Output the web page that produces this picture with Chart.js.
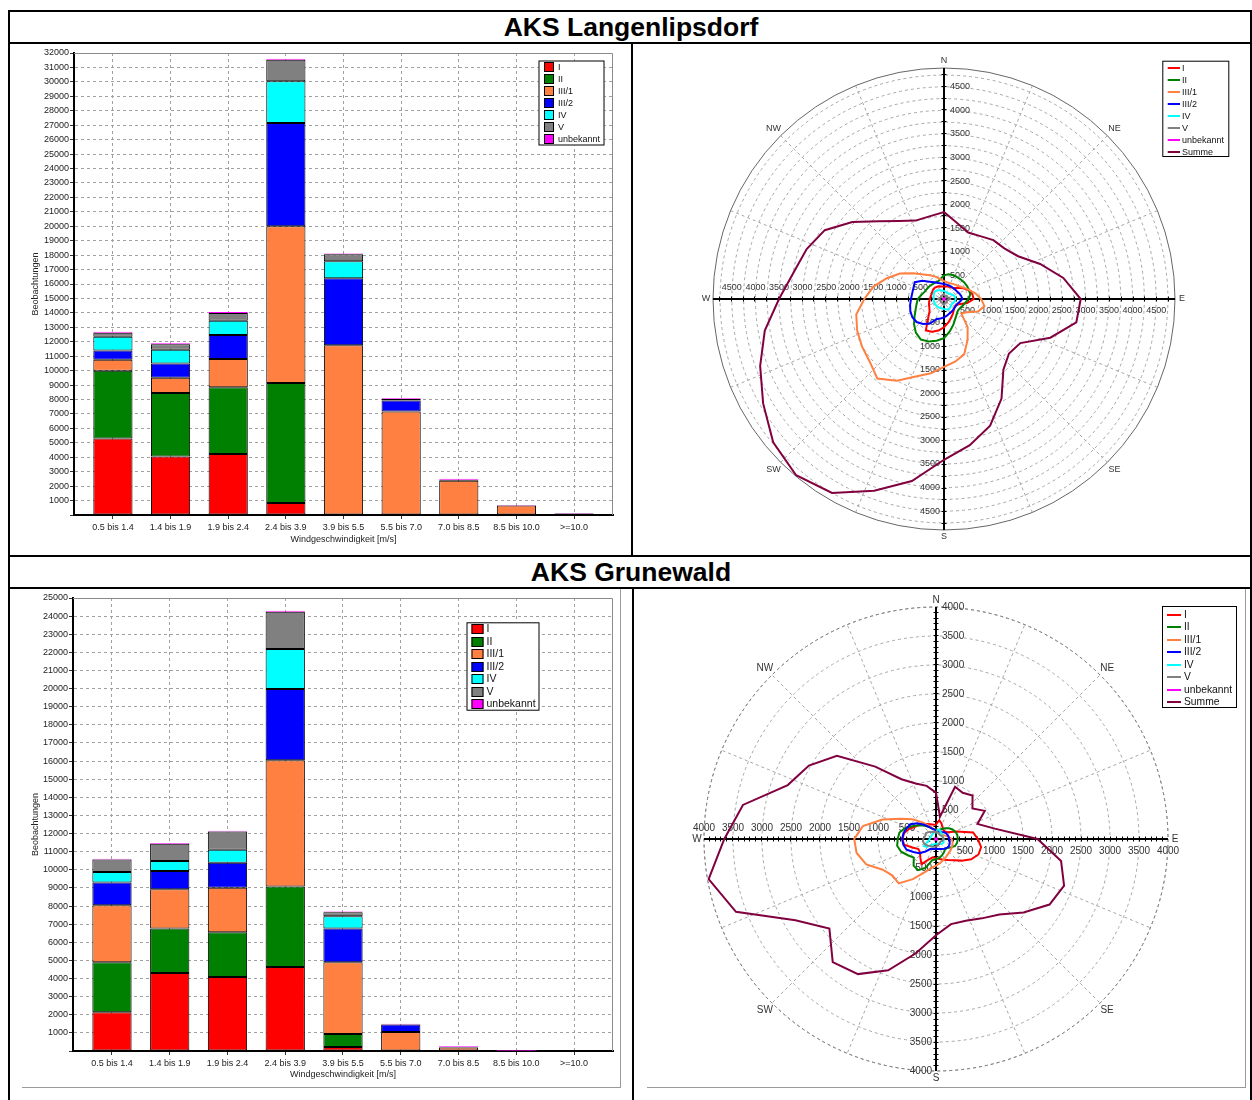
<!DOCTYPE html>
<html>
<head>
<meta charset="utf-8">
<script src="https://cdn.jsdelivr.net/npm/chart.js@4.4.1/dist/chart.umd.min.js"></script>
<style>
  html, body { margin: 0; padding: 0; background: #fff; }
  #page { position: relative; width: 1252px; height: 1100px; overflow: hidden;
          font-family: Arial, "Liberation Sans", sans-serif; }
  canvas { position: absolute; }
  .hl { position: absolute; height: 2px; background: #000; }
  .vl { position: absolute; width: 2px; background: #000; }
  .gl { position: absolute; background: #9a9a9a; }
  .title { position: absolute; left: 10px; width: 1242px; text-align: center;
           font-weight: bold; font-size: 26.5px; line-height: 30px; color: #000; }
</style>
</head>
<body>
<div id="page">
  <canvas id="barLang" width="622" height="511" style="left:10px;top:44px;width:622px;height:511px"></canvas>
  <canvas id="roseLang" width="617" height="511" style="left:634px;top:44px;width:617px;height:511px"></canvas>
  <canvas id="barGrun" width="622" height="497" style="left:10px;top:590px;width:622px;height:497px"></canvas>
  <canvas id="roseGrun" width="617" height="497" style="left:634px;top:590px;width:617px;height:497px"></canvas>

  <div class="title" style="top:12px">AKS Langenlipsdorf</div>
  <div class="title" style="top:557px">AKS Grunewald</div>

  <div class="hl" style="left:8px;top:10px;width:1244px"></div>
  <div class="hl" style="left:8px;top:42px;width:1244px"></div>
  <div class="hl" style="left:8px;top:555px;width:1244px"></div>
  <div class="hl" style="left:8px;top:587px;width:1244px"></div>
  <div class="vl" style="left:8px;top:10px;height:1090px"></div>
  <div class="vl" style="left:631px;top:42px;height:514px"></div>
  <div class="vl" style="left:632px;top:587px;height:513px"></div>
  <div class="vl" style="left:1250px;top:10px;height:1090px"></div>

  <div class="gl" style="left:22px;top:1087px;width:599px;height:1px"></div>
  <div class="gl" style="left:620px;top:589px;width:1px;height:499px"></div>
  <div class="gl" style="left:647px;top:1087px;width:599px;height:1px"></div>
  <div class="gl" style="left:1245px;top:589px;width:1px;height:499px"></div>
</div>

<script>
// ---- categories and labels ----
const speedClasses = ['0.5 bis 1.4', '1.4 bis 1.9', '1.9 bis 2.4', '2.4 bis 3.9', '3.9 bis 5.5',
                      '5.5 bis 7.0', '7.0 bis 8.5', '8.5 bis 10.0', '>=10.0'];
const stabilityClasses = ['I', 'II', 'III/1', 'III/2', 'IV', 'V', 'unbekannt'];
const roseSeriesNames = ['I', 'II', 'III/1', 'III/2', 'IV', 'V', 'unbekannt', 'Summe'];
const sectorDegrees = [0, 10, 20, 30, 40, 50, 60, 70, 80, 90, 100, 110, 120, 130, 140, 150, 160, 170,
                       180, 190, 200, 210, 220, 230, 240, 250, 260, 270, 280, 290, 300, 310, 320, 330, 340, 350];
const compassPoints = ['N', 'NE', 'E', 'SE', 'S', 'SW', 'W', 'NW'];
const langRoseTicks = [500, 1000, 1500, 2000, 2500, 3000, 3500, 4000, 4500];
const grunRoseTicks = [500, 1000, 1500, 2000, 2500, 3000, 3500, 4000];

// ---- AKS Langenlipsdorf: observations per wind speed class ----
const langBarI     = [5300, 4050, 4220,   830,     0,    0,    0,   0,   0];
const langBarII    = [4700, 4400, 4630,  8320,     0,    0,    0,   0,   0];
const langBarIII1  = [ 750, 1050, 1950, 10850, 11750, 7170, 2370, 650, 100];
const langBarIII2  = [ 650, 1000, 1670,  7150,  4650,  760,   80,   0,   0];
const langBarIV    = [ 950,  950,  990,  2900,  1180,    0,    0,   0,   0];
const langBarV     = [ 280,  370,  540,  1490,   480,  100,    0,   0,   0];
const langBarUnb   = [  70,   70,   60,    60,    50,   50,   60,  40,  40];

// ---- AKS Grunewald: observations per wind speed class ----
const grunBarI     = [2140, 4310, 4090, 4640,  220,    0,   0,  0, 0];
const grunBarII    = [2760, 2450, 2470, 4440,  720,    0,   0,  0, 0];
const grunBarIII1  = [3150, 2160, 2450, 6970, 3960, 1050, 190, 20, 0];
const grunBarIII2  = [1250, 1010, 1380, 3930, 1860,  410,  30,  0, 0];
const grunBarIV    = [ 580,  550,  720, 2210,  670,    0,   0,  0, 0];
const grunBarV     = [ 690,  960, 1010, 2050,  230,    0,   0,  0, 0];
const grunBarUnb   = [  40,   40,   40,   50,   40,   50,  40, 30, 0];

// ---- AKS Langenlipsdorf: observations per 10° direction sector ----
const langRoseI    = [265,270,280,290,300,370,460,550,610,630,500,330,280,290,320,370,430,510,600,680,740,770,520,400,360,340,320,300,290,285,290,305,310,300,285,270];
const langRoseII   = [500,535,540,540,545,555,560,565,565,520,460,420,390,385,420,480,580,700,830,900,960,990,930,830,720,640,590,555,490,440,420,410,400,395,390,430];
const langRoseIII1 = [380,360,355,370,390,420,480,570,680,790,870,770,560,480,780,1000,1250,1350,1440,1600,1750,2000,2200,2060,2010,1960,1890,1690,1520,1290,1080,850,680,580,500,430];
const langRoseIII2 = [320,310,305,305,305,310,320,345,370,390,340,300,290,290,300,315,330,360,390,420,450,600,690,760,775,760,730,700,685,690,715,600,480,410,360,335];
const langRoseIV   = [170,160,150,150,155,165,190,220,240,250,235,215,200,200,215,235,235,220,210,205,205,210,215,218,220,220,220,220,225,235,245,250,235,215,195,180];
const langRoseV    = [110,80,70,75,90,80,70,90,120,130,100,75,70,80,95,90,80,100,130,110,90,85,95,90,80,85,100,125,100,80,75,85,90,80,85,100];
const langRoseUnb  = [15,12,10,10,12,14,16,18,16,14,12,10,10,12,14,16,18,20,18,16,14,14,16,18,16,14,12,12,14,16,14,12,12,14,16,15];
const langRoseSum  = [1845,1630,1500,1540,1630,1670,1815,2170,2570,2900,2850,2400,1870,1800,1960,2440,2860,3150,3410,3920,4330,4750,4880,4730,4430,4150,3860,3500,3240,3100,2920,2540,2150,1910,1770,1780];

// ---- AKS Grunewald: observations per 10° direction sector ----
const grunRoseI    = [250,330,280,230,200,200,230,380,650,720,790,780,700,580,480,420,380,350,330,320,380,500,420,360,350,430,560,580,560,500,420,380,330,300,270,250];
const grunRoseII   = [170,160,170,200,240,290,330,360,375,375,370,350,290,240,240,270,300,330,350,370,530,620,600,500,560,640,680,660,640,560,450,370,300,240,190,175];
const grunRoseIII1 = [150,130,120,120,125,130,140,170,220,270,290,300,310,320,330,350,380,420,460,510,620,800,1000,980,1060,1280,1390,1410,1280,980,700,530,380,270,210,170];
const grunRoseIII2 = [150,140,140,150,160,180,200,210,220,230,240,250,255,240,220,200,185,175,170,175,180,200,280,380,450,540,570,585,570,540,510,420,320,240,190,165];
const grunRoseIV   = [110,160,170,150,140,130,120,120,125,130,135,140,140,130,110,95,85,80,80,85,95,110,140,210,240,160,120,110,105,100,95,95,100,110,120,120];
const grunRoseV    = [120,130,110,100,95,100,110,120,125,130,120,100,90,90,95,100,110,120,130,135,140,150,160,180,200,220,230,220,200,190,200,180,160,140,130,125];
const grunRoseUnb  = [10,8,8,10,12,12,10,8,8,10,12,14,12,10,10,12,14,12,10,10,12,14,14,12,10,10,12,14,12,10,8,8,10,12,12,10];
const grunRoseSum  = [800,390,960,920,980,820,970,760,1030,1750,2190,2350,2260,1970,1700,1580,1500,1490,1660,2000,2410,2690,2770,2400,2800,3670,3980,3650,3380,2720,2530,2230,1630,1190,1020,930];

// ---- styling ----
const FONT = 'Arial, "Liberation Sans", sans-serif';
const classColors = ['#ff0000', '#008000', '#ff8040', '#0000ff', '#00ffff', '#808080', '#ff00ff'];
const roseColors = ['#ff0000', '#008000', '#ff8040', '#0000ff', '#00ffff', '#808080', '#ff00ff', '#800040'];

Chart.defaults.font.family = FONT;
Chart.defaults.color = '#222';

// Frame around the plot area and the boxed class legend of the bar charts
const barDecor = {
  id: 'barDecor',
  afterDraw(chart, args, o) {
    const ctx = chart.ctx;
    const a = chart.chartArea;
    ctx.save();
    ctx.strokeStyle = '#8a8a8a';
    ctx.lineWidth = 1;
    ctx.beginPath();
    ctx.moveTo(a.left, a.top + 0.5);
    ctx.lineTo(a.right - 0.5, a.top + 0.5);
    ctx.lineTo(a.right - 0.5, a.bottom);
    ctx.stroke();

    const L = o.legend;
    ctx.fillStyle = '#fff';
    ctx.fillRect(L.x, L.y, L.w, L.h);
    ctx.strokeStyle = '#000';
    ctx.strokeRect(L.x + 0.5, L.y + 0.5, L.w - 1, L.h - 1);
    ctx.font = L.font + 'px ' + FONT;
    ctx.textBaseline = 'middle';
    ctx.textAlign = 'left';
    chart.data.datasets.forEach((ds, i) => {
      const cy = Math.round(L.y + L.row0 + i * L.gap);
      ctx.fillStyle = ds.backgroundColor;
      ctx.fillRect(L.x + L.sqX, cy - L.sq / 2, L.sqW, L.sq);
      ctx.strokeStyle = '#000';
      ctx.strokeRect(L.x + L.sqX + 0.5, cy - L.sq / 2 + 0.5, L.sqW - 1, L.sq - 1);
      ctx.fillStyle = '#111';
      ctx.fillText(ds.label, L.x + L.textX, cy + 0.5);
    });
    ctx.restore();
  }
};

function makeBarChart(id, series, yMax, g) {
  const datasets = series.map((vals, i) => ({
    label: stabilityClasses[i],
    data: vals.map((v, k) => ({ x: k, y: v })),
    backgroundColor: classColors[i],
    borderColor: i === series.length - 1 ? classColors[i] : '#000',
    borderWidth: 1,
    borderSkipped: false,
    barPercentage: 0.68,
    categoryPercentage: 1
  }));
  return new Chart(document.getElementById(id), {
    type: 'bar',
    data: { datasets },
    options: {
      responsive: false, animation: false, devicePixelRatio: 1, events: [],
      layout: { padding: { left: 0, right: g.padRight, top: g.padTop, bottom: 0 } },
      plugins: { legend: { display: false }, tooltip: { enabled: false }, barDecor: { legend: g.legend } },
      scales: {
        x: {
          type: 'linear', stacked: true, offset: false,
          min: -0.675, max: speedClasses.length - 1 + 0.675,
          afterBuildTicks: (axis) => { axis.ticks = speedClasses.map((_, k) => ({ value: k })); },
          afterFit: (axis) => { axis.height = g.xHeight; },
          ticks: { callback: (v) => speedClasses[v], autoSkip: false, maxRotation: 0,
                   padding: 3, font: { size: 9 }, color: '#222' },
          grid: { offset: false, color: '#a0a0a0', lineWidth: 1, tickLength: 4, tickColor: '#333' },
          border: { color: '#000', width: 2, dash: [3, 3] },
          title: { display: true, text: 'Windgeschwindigkeit [m/s]', font: { size: 9 }, color: '#222',
                   padding: { top: 0, bottom: g.xTitlePad } }
        },
        y: {
          stacked: true, min: 0, max: yMax,
          afterFit: (axis) => { axis.width = g.yWidth; },
          ticks: { stepSize: 1000, autoSkip: false, padding: 1, font: { size: 9 }, color: '#222',
                   callback: (v) => (v === 0 ? '' : v) },
          grid: { color: '#a0a0a0', lineWidth: 1, tickLength: 4, tickColor: '#333' },
          border: { color: '#000', width: 2, dash: [3, 3] },
          title: { display: true, text: 'Beobachtungen', font: { size: 9 }, color: '#222',
                   padding: { top: 20, bottom: 0 } }
        }
      }
    },
    plugins: [barDecor]
  });
}

// Compass spokes, main axes with value labels, compass labels and line legend of the wind roses
const roseDecor = {
  id: 'roseDecor',
  beforeDatasetsDraw(chart, args, o) {
    const r = chart.scales.r;
    const ctx = chart.ctx;
    const cx = r.xCenter, cy = r.yCenter, R = r.drawingArea;
    ctx.save();
    ctx.lineWidth = 1;
    ctx.strokeStyle = '#a6a6a6';
    ctx.setLineDash([3, 3]);
    for (let k = 0; k < 16; k++) {
      if (k % 4 === 0) continue;
      const a = k * Math.PI / 8;
      ctx.beginPath();
      ctx.moveTo(cx, cy);
      ctx.lineTo(cx + R * Math.sin(a), cy - R * Math.cos(a));
      ctx.stroke();
    }
    ctx.setLineDash(o.outerDash);
    ctx.strokeStyle = o.outerColor;
    ctx.beginPath();
    ctx.arc(cx, cy, R, 0, Math.PI * 2);
    ctx.stroke();
    ctx.setLineDash([]);

    // small tick marks along the main axes
    ctx.strokeStyle = '#000';
    ctx.lineWidth = 1;
    ctx.beginPath();
    for (let v = o.minorStep; v < r.max; v += o.minorStep) {
      const d = Math.round(r.getDistanceFromCenterForValue(v)) + 0.5;
      ctx.moveTo(cx - 2.5, cy - d); ctx.lineTo(cx + 2.5, cy - d);
      ctx.moveTo(cx - 2.5, cy + d); ctx.lineTo(cx + 2.5, cy + d);
      ctx.moveTo(cx - d, cy - 2.5); ctx.lineTo(cx - d, cy + 2.5);
      ctx.moveTo(cx + d, cy - 2.5); ctx.lineTo(cx + d, cy + 2.5);
    }
    ctx.stroke();

    ctx.lineWidth = 2;
    ctx.beginPath();
    ctx.moveTo(cx - R, cy); ctx.lineTo(cx + R, cy);
    ctx.moveTo(cx, cy - R); ctx.lineTo(cx, cy + R);
    ctx.stroke();

    ctx.fillStyle = '#333';
    ctx.font = o.font + 'px ' + FONT;
    ctx.textBaseline = 'middle';
    o.ticks.forEach((v) => {
      const d = r.getDistanceFromCenterForValue(v);
      ctx.textAlign = 'left';   ctx.fillText(String(v), cx + 6, cy - d);
      ctx.textAlign = 'right';  ctx.fillText(String(v), cx - 4, cy + d);
      ctx.textAlign = 'center'; ctx.fillText(String(v), cx - d, cy - 11);
      ctx.fillText(String(v), cx + d, cy + 12);
    });

    ctx.textAlign = 'center';
    compassPoints.forEach((name, k) => {
      const a = k * Math.PI / 4;
      const dist = R + (k % 2 === 0 ? 7 : 10);
      ctx.fillText(name, cx + dist * Math.sin(a), cy - dist * Math.cos(a));
    });
    ctx.restore();
  },
  afterDraw(chart, args, o) {
    const ctx = chart.ctx;
    const L = o.legend;
    ctx.save();
    ctx.fillStyle = '#fff';
    ctx.fillRect(L.x, L.y, L.w, L.h);
    ctx.strokeStyle = '#000';
    ctx.lineWidth = 1;
    ctx.strokeRect(L.x + 0.5, L.y + 0.5, L.w - 1, L.h - 1);
    ctx.font = L.font + 'px ' + FONT;
    ctx.textBaseline = 'middle';
    ctx.textAlign = 'left';
    chart.data.datasets.forEach((ds, i) => {
      const cy = Math.round(L.y + L.row0 + i * L.gap);
      ctx.strokeStyle = ds.borderColor;
      ctx.lineWidth = 2;
      ctx.beginPath();
      ctx.moveTo(L.x + L.lineX0, cy);
      ctx.lineTo(L.x + L.lineX1, cy);
      ctx.stroke();
      ctx.fillStyle = '#111';
      ctx.fillText(ds.label, L.x + L.textX, cy + 0.5);
    });
    ctx.restore();
  }
};

function makeRose(id, series, g) {
  const datasets = series.map((vals, i) => ({
    label: roseSeriesNames[i],
    data: vals,
    borderColor: roseColors[i],
    backgroundColor: 'rgba(0,0,0,0)',
    borderWidth: 2,
    pointRadius: 0,
    fill: false,
    order: series.length - i
  }));
  return new Chart(document.getElementById(id), {
    type: 'radar',
    data: { labels: sectorDegrees, datasets },
    options: {
      responsive: false, animation: false, devicePixelRatio: 1, events: [],
      layout: { padding: g.pad },
      plugins: { legend: { display: false }, tooltip: { enabled: false }, roseDecor: g.decor },
      scales: {
        r: {
          min: 0, max: g.max,
          ticks: { display: false, stepSize: g.gridStep, includeBounds: false },
          grid: { circular: true, color: '#a6a6a6', lineWidth: 1 },
          border: { dash: [3, 3] },
          angleLines: { display: false },
          pointLabels: { display: false }
        }
      }
    },
    plugins: [roseDecor]
  });
}

makeBarChart('barLang',
  [langBarI, langBarII, langBarIII1, langBarIII2, langBarIV, langBarV, langBarUnb], 32000,
  { padTop: 9, padRight: 19, yWidth: 64, xHeight: 40, xTitlePad: 10,
    legend: { x: 528.5, y: 16.5, w: 66, h: 85, row0: 6.2, gap: 12.05, sq: 10, sqW: 10, sqX: 5.5, textX: 19.5, font: 9 } });

makeBarChart('barGrun',
  [grunBarI, grunBarII, grunBarIII1, grunBarIII2, grunBarIV, grunBarV, grunBarUnb], 25000,
  { padTop: 8, padRight: 19, yWidth: 63, xHeight: 36, xTitlePad: 6.6,
    legend: { x: 456.5, y: 32.3, w: 73, h: 88.4, row0: 6.7, gap: 12.55, sq: 10, sqW: 12, sqX: 5, textX: 20, font: 10.5 } });

makeRose('roseLang',
  [langRoseI, langRoseII, langRoseIII1, langRoseIII2, langRoseIV, langRoseV, langRoseUnb, langRoseSum],
  { max: 4900, gridStep: 250, pad: { left: 79, right: 76, top: 24, bottom: 25 },
    decor: { ticks: langRoseTicks, minorStep: 250, font: 9, outerColor: '#666', outerDash: [],
             legend: { x: 528.3, y: 16.7, w: 67, h: 96.3, row0: 7.6, gap: 12, lineX0: 5.4, lineX1: 17.7, textX: 19.7, font: 9 } } });

makeRose('roseGrun',
  [grunRoseI, grunRoseII, grunRoseIII1, grunRoseIII2, grunRoseIV, grunRoseV, grunRoseUnb, grunRoseSum],
  { max: 4000, gridStep: 500, pad: { left: 70, right: 83, top: 17, bottom: 16 },
    decor: { ticks: grunRoseTicks, minorStep: 100, font: 10, outerColor: '#808080', outerDash: [3, 3],
             legend: { x: 528, y: 16, w: 75, h: 102, row0: 9, gap: 12.43, lineX0: 5, lineX1: 19, textX: 22, font: 10.3 } } });
</script>
</body>
</html>
